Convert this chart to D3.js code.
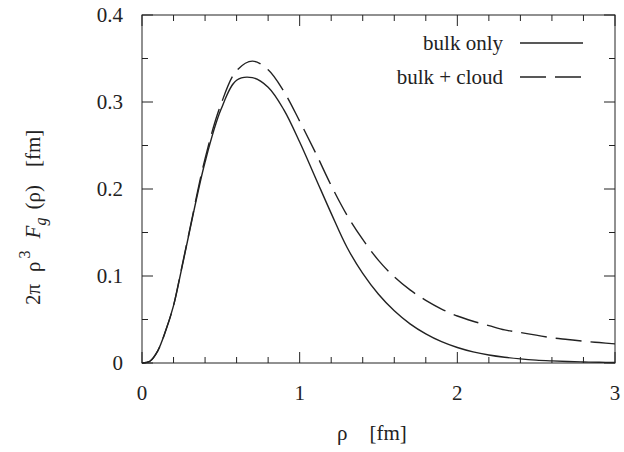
<!DOCTYPE html>
<html><head><meta charset="utf-8"><script src="https://cdn.jsdelivr.net/npm/d3@7"></script>
<style>
  svg#chart text, svg#chart tspan { font-family: "Liberation Serif", "Times New Roman", Times, serif !important; }
</style>
</head>
<body style="margin:0">
<svg id="chart" width="624" height="452" style="font-family: 'Liberation Serif', 'Times New Roman', serif"></svg>
<script>
// ---- data ----
const rho = [0,0.05,0.1,0.15,0.2,0.25,0.3,0.4,0.5,0.6,0.7,0.8,0.9,1.0,1.1,1.2,1.3,1.4,1.5,1.6,1.7,1.8,1.9,2.0,2.1,2.2,2.3,2.4,2.5,2.6,2.7,2.8,2.9,3.0];
const bulkOnly = [0,0.002,0.014,0.037,0.066,0.107,0.150,0.231,0.291,0.325,0.328,0.317,0.291,0.254,0.213,0.172,0.133,0.103,0.079,0.060,0.045,0.0335,0.0245,0.0178,0.0128,0.0092,0.0066,0.0047,0.0033,0.0024,0.0017,0.0012,0.0008,0.0005];
const bulkCloud = [0,0.002,0.014,0.037,0.066,0.108,0.151,0.235,0.297,0.336,0.347,0.337,0.312,0.278,0.242,0.204,0.170,0.142,0.118,0.099,0.084,0.072,0.062,0.054,0.048,0.043,0.038,0.035,0.032,0.029,0.027,0.025,0.0235,0.022];
const xTicks = [0,1,2,3];
const yTicks = [0,0.1,0.2,0.3,0.4];
const xMinor = d3.range(0, 3.0001, 0.2);
const yMinor = d3.range(0, 0.40001, 0.05);
const seriesNames = ["bulk only", "bulk + cloud"];

// ---- layout ----
const svg = d3.select("#chart");
const L = 142, R = 615, T = 15, B = 363;
const x = d3.scaleLinear().domain([0, 3]).range([L, R]);
const y = d3.scaleLinear().domain([0, 0.4]).range([B, T]);
const ink = "#222";
const txt = sel => sel.style("font-family", "Liberation Serif").style("font-size", "21px").attr("fill", ink);

// frame
svg.append("rect").attr("x", L).attr("y", T).attr("width", R - L).attr("height", B - T)
  .attr("fill", "none").attr("stroke", ink).attr("stroke-width", 1);

// ticks (inward, all four sides)
const fmtY = d => d === 0 ? "0" : d3.format(".1f")(d);
const gx = svg.append("g");
xMinor.forEach(v => {
  const major = xTicks.some(t => Math.abs(t - v) < 1e-6);
  const len = major ? 11 : 6;
  gx.append("line").attr("x1", x(v)).attr("x2", x(v)).attr("y1", B).attr("y2", B - len).attr("stroke", ink);
  gx.append("line").attr("x1", x(v)).attr("x2", x(v)).attr("y1", T).attr("y2", T + len).attr("stroke", ink);
});
yMinor.forEach(v => {
  const major = yTicks.some(t => Math.abs(t - v) < 1e-6);
  const len = major ? 11 : 6;
  gx.append("line").attr("y1", y(v)).attr("y2", y(v)).attr("x1", L).attr("x2", L + len).attr("stroke", ink);
  gx.append("line").attr("y1", y(v)).attr("y2", y(v)).attr("x1", R).attr("x2", R - len).attr("stroke", ink);
});

// tick labels
xTicks.forEach(t => {
  txt(svg.append("text")).attr("x", x(t)).attr("y", B + 37).attr("text-anchor", "middle").text(String(t));
});
yTicks.forEach(t => {
  txt(svg.append("text")).attr("x", L - 19).attr("y", y(t) + 7).attr("text-anchor", "end").text(fmtY(t));
});

// curves
const line = d3.line().x((d, i) => x(rho[i])).y(d => y(d)).curve(d3.curveCatmullRom.alpha(0.5));
svg.append("path").attr("d", line(bulkOnly)).attr("fill", "none")
  .attr("stroke", ink).attr("stroke-width", 1.4);
svg.append("path").attr("d", line(bulkCloud)).attr("fill", "none")
  .attr("stroke", ink).attr("stroke-width", 1.4).attr("stroke-dasharray", "26,9");

// legend
const legY = [43, 77];
const dashes = [null, "26,9"];
seriesNames.forEach((name, i) => {
  txt(svg.append("text")).attr("x", 503).attr("y", legY[i] + 7).attr("text-anchor", "end").text(name);
  const ln = svg.append("line").attr("x1", 520).attr("x2", 583).attr("y1", legY[i]).attr("y2", legY[i])
    .attr("stroke", ink).attr("stroke-width", 1.4);
  if (dashes[i]) ln.attr("stroke-dasharray", dashes[i]);
});

// x-axis label
const xl = txt(svg.append("text")).attr("x", 337).attr("y", 440);
xl.append("tspan").text("ρ");
xl.append("tspan").attr("dx", 22).text("[fm]");

// y-axis label
const yl = txt(svg.append("text")).attr("transform", "translate(40,305) rotate(-90)")
  .attr("text-anchor", "start");
yl.append("tspan").text("2π");
yl.append("tspan").attr("dx", 12).text("ρ");
yl.append("tspan").attr("dx", 3).attr("dy", -10).style("font-size", "16px").text("3");
yl.append("tspan").attr("dx", 12).attr("dy", 10).style("font-style", "italic").text("F");
yl.append("tspan").attr("dy", 6).style("font-size", "16px").style("font-style", "italic").text("g");
yl.append("tspan").attr("dx", 8).attr("dy", -6).text("(ρ)");
yl.append("tspan").attr("dx", 18).text("[fm]");
</script>
</body>
</html>
